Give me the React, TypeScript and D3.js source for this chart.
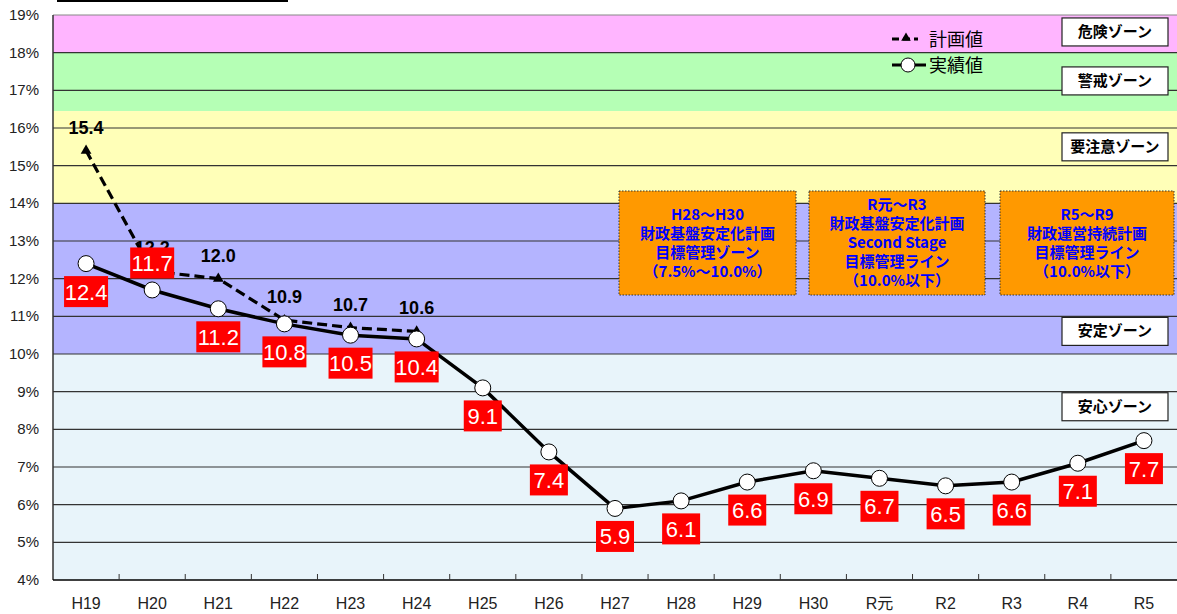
import * as d3 from "d3";

const years = ["H19", "H20", "H21", "H22", "H23", "H24", "H25", "H26", "H27", "H28", "H29", "H30", "R元", "R2", "R3", "R4", "R5"];
const actual = [12.4, 11.7, 11.2, 10.8, 10.5, 10.4, 9.1, 7.4, 5.9, 6.1, 6.6, 6.9, 6.7, 6.5, 6.6, 7.1, 7.7];
const planYears = ["H19", "H20", "H21", "H22", "H23", "H24"];
const plan = [15.4, 12.2, 12.0, 10.9, 10.7, 10.6];
const yTicks = [4, 5, 6, 7, 8, 9, 10, 11, 12, 13, 14, 15, 16, 17, 18, 19];

// colour bands: [from, to, colour]
const zones: [number, number, string][] = [
  [18, 19, "#ffb5ff"],
  [16.45, 18, "#b5ffb5"],
  [14, 16.45, "#ffffb8"],
  [10, 14, "#b4b4ff"],
  [4, 10, "#e8f4fa"],
];
const zoneNames = ["危険ゾーン", "警戒ゾーン", "要注意ゾーン", "安定ゾーン", "安心ゾーン"];
const zoneLabelAt = [18.55, 17.25, 15.5, 10.6, 8.6];

const planNotes = [
  ["H28～H30", "財政基盤安定化計画", "目標管理ゾーン", "（7.5%～10.0%）"],
  ["R元～R3", "財政基盤安定化計画", "Second Stage", "目標管理ライン", "（10.0%以下）"],
  ["R5～R9", "財政運営持続計画", "目標管理ライン", "（10.0%以下）"],
];

const W = 1177;
const H = 614;
const left = 53;
const right = 1177;
const top = 15;
const bottom = 580;

const FONT = "'Liberation Sans', 'Noto Sans CJK JP', sans-serif";
const JP = "'Noto Sans CJK JP', sans-serif";

export default function App() {
  const x = d3.scaleBand<string>().domain(years).range([left, right]).padding(0);
  const y = d3.scaleLinear().domain([4, 19]).range([bottom, top]);
  const cx = (k: string) => (x(k) as number) + x.bandwidth() / 2;

  const line = d3
    .line<[string, number]>()
    .x((d) => cx(d[0]))
    .y((d) => y(d[1]));

  const actualPts: [string, number][] = years.map((k, i) => [k, actual[i]]);
  const planPts: [string, number][] = planYears.map((k, i) => [k, plan[i]]);
  const tri = d3.symbol(d3.symbolTriangle, 50)() as string;

  const boxX = [619, 809, 1000];
  const boxW = [177, 176, 174];

  return (
    <svg width={W} height={H} style={{ position: "absolute", left: 0, top: 0 }} fontFamily={FONT}>
      <rect width={W} height={H} fill="#fff" />
      <line x1={57} x2={288} y1={1} y2={1} stroke="#000" strokeWidth={2} />

      {zones.map(([a, b, c], i) => (
        <rect key={i} x={left} width={right - left} y={y(b)} height={y(a) - y(b)} fill={c} />
      ))}
      {yTicks.map((t) => (
        <g key={t}>
          {t > 4 && <line x1={left} x2={right} y1={y(t)} y2={y(t)} stroke={t === 19 ? "#888" : "#333"} strokeWidth={1.2} />}
          <text x={39} y={y(t) + 5} textAnchor="end" fontSize={15} fill="#222">
            {t}%
          </text>
        </g>
      ))}
      <line x1={left} x2={left} y1={top} y2={bottom} stroke="#333" strokeWidth={1.5} />
      <line x1={left} x2={right} y1={bottom} y2={bottom} stroke="#000" strokeWidth={1.5} />
      {years.map((k, i) => (
        <g key={k}>
          {i > 0 && <line x1={x(k)} x2={x(k)} y1={bottom} y2={bottom - 6} stroke="#333" strokeWidth={1} />}
          <text x={cx(k)} y={609} textAnchor="middle" fontSize={16} fill="#222">
            {k}
          </text>
        </g>
      ))}

      {/* plan line */}
      <path d={line(planPts) as string} fill="none" stroke="#000" strokeWidth={3.2} strokeDasharray="10 5" />
      {planPts.map(([k, v]) => (
        <path key={k} d={tri} transform={`translate(${cx(k)},${y(v)})`} fill="#000" />
      ))}
      {planPts.map(([k, v]) => (
        <text key={k} x={cx(k)} y={y(v) - 17} textAnchor="middle" fontSize={18} fontWeight="bold" fill="#000">
          {v.toFixed(1)}
        </text>
      ))}

      {/* actual line */}
      <path d={line(actualPts) as string} fill="none" stroke="#000" strokeWidth={3.5} />
      {actualPts.map(([k, v]) => (
        <circle key={k} cx={cx(k)} cy={y(v)} r={8} fill="#fff" stroke="#000" strokeWidth={1} />
      ))}
      {actualPts.map(([k, v], i) => {
        const s = v.toFixed(1);
        const bw = s.length * 6 + 20;
        const cy = i === 1 ? y(v) - 27 : y(v) + 28;
        return (
          <g key={k}>
            <rect x={cx(k) - bw / 2} y={cy - 15.5} width={bw} height={31} fill="#ff0000" />
            <text x={cx(k)} y={cy + 8} textAnchor="middle" fontSize={22} fill="#fff">
              {s}
            </text>
          </g>
        );
      })}

      {/* plan notes */}
      {planNotes.map((lines, i) => {
        const mid = 243;
        const step = 19;
        return (
          <g key={i}>
            <rect x={boxX[i]} y={191} width={boxW[i]} height={104} fill="#ff9900" stroke="#333" strokeWidth={1} strokeDasharray="1.5 1.5" />
            {lines.map((t, j) => (
              <text
                key={j}
                x={boxX[i] + boxW[i] / 2}
                y={mid + (j - (lines.length - 1) / 2) * step + 5}
                textAnchor="middle"
                fontSize={15}
                fontWeight="bold"
                fill="#0000ff"
                fontFamily={JP}
              >
                {t}
              </text>
            ))}
          </g>
        );
      })}

      {/* zone labels */}
      {zoneNames.map((n, i) => {
        const c = y(zoneLabelAt[i]);
        return (
          <g key={n}>
            <rect x={1062} y={c - 14} width={106} height={28} fill="#fff" stroke="#222" strokeWidth={1.2} />
            <text x={1115} y={c + 5} textAnchor="middle" fontSize={15} fontWeight="bold" fill="#000" fontFamily={JP}>
              {n}
            </text>
          </g>
        );
      })}

      {/* legend */}
      <g>
        <line x1={892} x2={918} y1={39} y2={39} stroke="#000" strokeWidth={3} strokeDasharray="7 4" />
        <path d={d3.symbol(d3.symbolTriangle, 40)() as string} transform="translate(906,38)" fill="#000" />
        <text x={929} y={46} fontSize={18} fill="#000" fontFamily={JP}>
          計画値
        </text>
        <line x1={892} x2={926} y1={65} y2={65} stroke="#000" strokeWidth={3} />
        <circle cx={908} cy={65} r={7} fill="#fff" stroke="#000" strokeWidth={1} />
        <text x={929} y={72} fontSize={18} fill="#000" fontFamily={JP}>
          実績値
        </text>
      </g>
    </svg>
  );
}
